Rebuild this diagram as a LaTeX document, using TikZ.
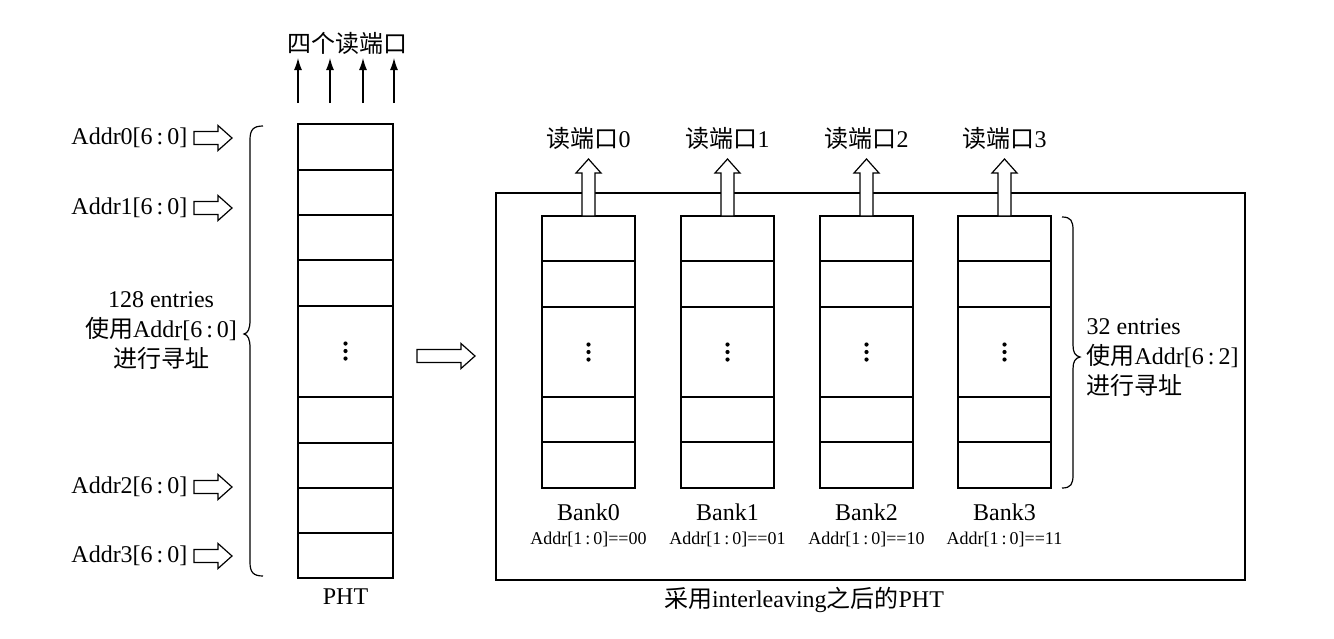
\documentclass[tikz,border=0pt]{standalone}
\usepackage{fontspec}
\setmainfont{Liberation Serif}
\newfontfamily\cjk{Noto Sans CJK SC}
\usetikzlibrary{arrows.meta}
\begin{document}
\begin{tikzpicture}[x=1pt,y=-1pt,
  line width=1.2pt,
  every node/.style={font=\fontsize{24}{30}\selectfont, inner sep=0pt},
  small/.style={font=\fontsize{18}{22}\selectfont},
  col/.style={draw, line width=1.2pt, minimum width=93pt, inner sep=0pt},
  thinarrow/.style={-{Latex[length=12pt,width=8pt]}, line width=1.2pt},
  bracepath/.style={line width=1.2pt},
  pics/vdots/.style={code={\foreach \d in {-7.5,0,7.5} \fill (0,\d) circle (2.1pt);}},
  pics/hollow/.style={code={\draw[fill=white,line width=1.2pt,line join=miter] (0,-6.5) -- ({#1-14},-6.5) -- ({#1-14},-12.5) -- (#1,0) -- ({#1-14},12.5) -- ({#1-14},6.5) -- (0,6.5) -- cycle;}},
]
\useasboundingbox (0,0) rectangle (1334,638);

% ---------- left PHT ----------
\node[col, minimum width=95pt, minimum height=454pt] (pht) at (345.5,351) {};
\foreach \y in {170,215,260,306,397,443,488,533}
  \draw (298,\y) -- (393,\y);
\pic at (345.5,351) {vdots};
\node (phtlabel) at (345.5,597) {PHT};

\node (ports) at (347,43) {\cjk 四个读端口};
\foreach \x [count=\i] in {298,330,363,394} {
  \coordinate (pa\i) at (\x,103);
  \coordinate (pb\i) at (\x,58);
  \draw[thinarrow] (pa\i) -- (pb\i);
}

% address inputs
\node[anchor=east] (a0) at (188,138) {Addr0[6\,:\,0]};
\node[anchor=east] (a1) at (188,208) {Addr1[6\,:\,0]};
\node[anchor=east] (a2) at (188,487) {Addr2[6\,:\,0]};
\node[anchor=east] (a3) at (188,556) {Addr3[6\,:\,0]};
\pic at (194,138) {hollow=38};
\pic at (194,208) {hollow=38};
\pic at (194,487) {hollow=38};
\pic at (194,556) {hollow=38};

% left brace
\draw[bracepath] (263,126) .. controls (253,126) and (250,130) .. (250,140) -- (250,320)
  .. controls (250,329) and (248,333) .. (244,334)
  .. controls (248,335) and (250,339) .. (250,348) -- (250,562)
  .. controls (250,572) and (253,576) .. (263,576);
\node[align=center] (leftinfo) at (161,331) {128 entries\\{\cjk 使用}Addr[6\,:\,0]\\{\cjk 进行寻址}};

% middle arrow
\pic at (417,356) {hollow=58};

% ---------- right part ----------
\node[draw, line width=1.2pt, minimum width=749pt, minimum height=387pt] (box) at (870.5,386.5) {};

\foreach \i/\x/\b in {0/588.5/00,1/727.5/01,2/866.5/10,3/1004.5/11} {
  \node[col, minimum height=272pt] (bank\i) at (\x,352) {};
  \foreach \y in {261,307,397,442}
    \draw ({\x-46.5},\y) -- ({\x+46.5},\y);
  \pic at (\x,352) {vdots};
  \node (bl\i) at (\x,512) {Bank\i};
  \node[small] (ba\i) at (\x,539) {Addr[1\,:\,0]==\b};
  \pic[rotate=90] at (\x,216) {hollow=57};
  \node (port\i) at (\x,138) {{\cjk 读端口}\i};
}

% right brace
\draw[bracepath] (1062,217) .. controls (1071,217) and (1073,221) .. (1073,230) -- (1073,345)
  .. controls (1073,352) and (1075,356) .. (1080,357)
  .. controls (1075,358) and (1073,362) .. (1073,369) -- (1073,475)
  .. controls (1073,484) and (1071,488) .. (1062,488);
\node[align=left, anchor=west] (rightinfo) at (1086,358) {32 entries\\{\cjk 使用}Addr[6\,:\,2]\\{\cjk 进行寻址}};

\node (caption) at (804,600) {{\cjk 采用}interleaving{\cjk 之后的}PHT};
\end{tikzpicture}
\end{document}
